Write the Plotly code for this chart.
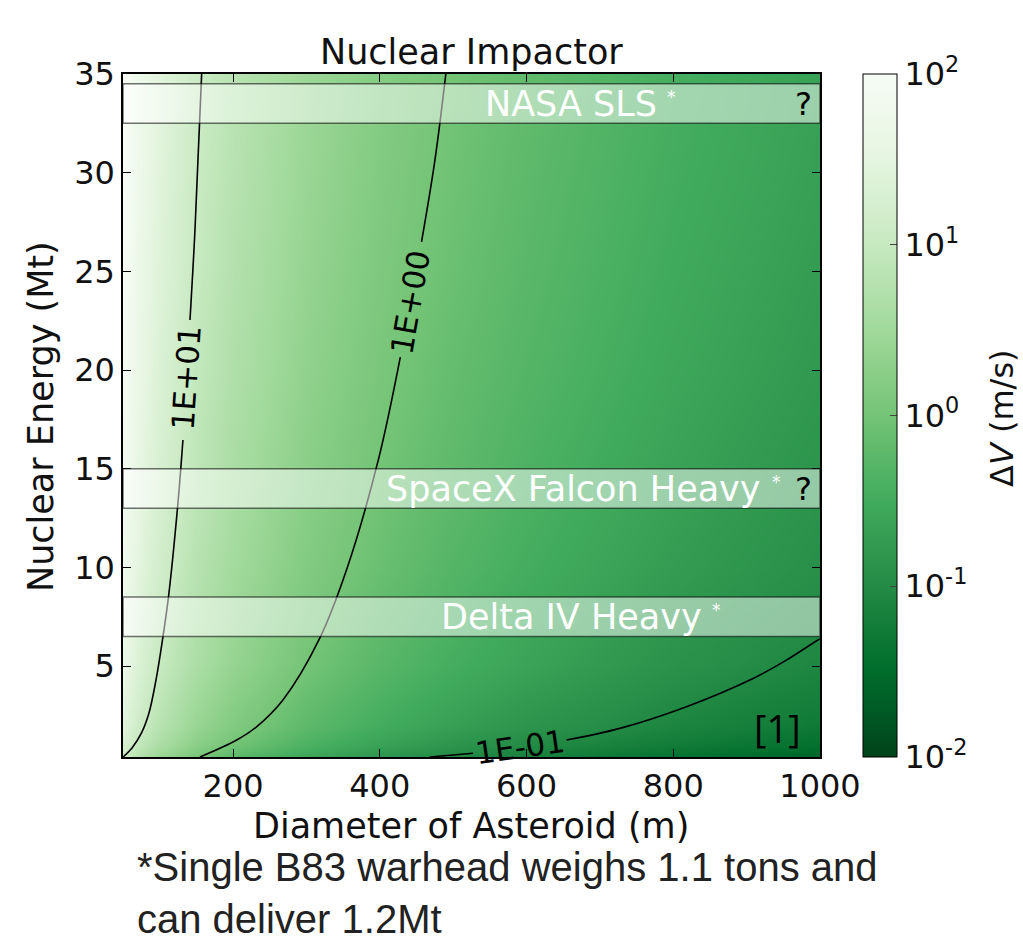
import plotly.graph_objects as go

# ---------------- data ----------------
diameter_grid = [50, 75, 100, 150, 200, 300, 400, 500, 600, 800, 1000]   # m
energy_grid = [0.4, 1, 2, 5, 10, 15, 20, 25, 30, 35]                    # Mt
# log10(delta V [m/s]) estimated on the grid (rows = energy, cols = diameter)
log_dv = [
    [1.08, 0.70, 0.42, 0.04, -0.23, -0.58, -0.84, -1.03, -1.18, -1.42, -1.60],
    [1.27, 0.89, 0.62, 0.25, -0.01, -0.38, -0.64, -0.84, -1.00, -1.25, -1.44],
    [1.44, 1.06, 0.79, 0.41, 0.15, -0.22, -0.48, -0.68, -0.84, -1.09, -1.29],
    [1.64, 1.27, 1.00, 0.63, 0.37, 0.00, -0.27, -0.47, -0.63, -0.89, -1.08],
    [1.80, 1.43, 1.16, 0.79, 0.53, 0.16, -0.10, -0.31, -0.47, -0.73, -0.93],
    [1.90, 1.52, 1.26, 0.89, 0.62, 0.25, -0.01, -0.21, -0.38, -0.64, -0.85],
    [1.96, 1.59, 1.32, 0.95, 0.69, 0.32, 0.06, -0.15, -0.31, -0.57, -0.78],
    [2.01, 1.64, 1.38, 1.01, 0.74, 0.37, 0.11, -0.09, -0.26, -0.52, -0.73],
    [2.05, 1.68, 1.42, 1.05, 0.79, 0.42, 0.15, -0.05, -0.22, -0.48, -0.68],
    [2.09, 1.72, 1.45, 1.08, 0.82, 0.45, 0.19, -0.01, -0.18, -0.44, -0.65],
]

# contour lines (split where the inline labels sit)
c10_lower_x = [50, 62.3, 75.2, 85.4, 95.0, 103.8, 112.0, 124.3, 131.7]
c10_lower_y = [0.40, 0.86, 1.62, 2.63, 4.31, 6.33, 8.51, 13.02, 16.46]
c10_upper_x = [141.3, 148.1, 157.2]
c10_upper_y = [22.54, 27.1, 35.0]

c1_lower_x = [154.9, 205.0, 232.0, 268.0, 317.0, 356.0, 398.0, 428.0]
c1_lower_y = [0.40, 1.26, 1.93, 3.29, 6.33, 10.03, 15.45, 20.66]
c1_upper_x = [456.9, 475.0, 490.0]
c1_upper_y = [26.5, 30.6, 35.0]

c01_lower_x = [468.3, 527.2]
c01_lower_y = [0.40, 0.59]
c01_upper_x = [654.5, 727.1, 818.0, 908.7, 954.2, 997.3, 1000]
c01_upper_y = [1.26, 1.85, 2.95, 4.38, 5.31, 6.33, 6.38]

contour_labels = ["1E+01", "1E+00", "1E-01"]
contour_label_x = [136, 441, 591]
contour_label_y = [19.6, 23.47, 0.92]
contour_label_angle = [-86, -80, -8]

# launch-vehicle bands
band_names = ["NASA SLS", "SpaceX Falcon Heavy", "Delta IV Heavy"]
band_low = [32.5, 13.0, 6.5]
band_high = [34.5, 15.0, 8.5]
band_text_x = [661, 663.5, 661]
band_star_x = [797.5, 940.6, 858.8]
band_question = [True, True, False]

x_ticks = [200, 400, 600, 800, 1000]
y_ticks = [5, 10, 15, 20, 25, 30, 35]
cbar_tickvals = [-2, -1, 0, 1, 2]
cbar_ticktext = ["10<sup>-2</sup>", "10<sup>-1</sup>", "10<sup>0</sup>",
                 "10<sup>1</sup>", "10<sup>2</sup>"]

# ---------------- figure ----------------
greens_r = [[0.0, "#00441b"], [0.125, "#006d2c"], [0.25, "#238b45"],
            [0.375, "#41ab5d"], [0.5, "#74c476"], [0.625, "#a1d99b"],
            [0.75, "#c7e9c0"], [0.875, "#e5f5e0"], [1.0, "#f7fcf5"]]

FONT = "DejaVu Sans"
W, H = 1023, 941
L, R, T, B = 123, 203, 74, 184
plot_w = W - L - R
plot_h = H - T - B


def px_to_paper(px, py):
    return (px - L) / plot_w, 1 - (py - T) / plot_h


fig = go.Figure()
fig.add_trace(go.Heatmap(
    x=diameter_grid, y=energy_grid, z=log_dv,
    zmin=-2, zmax=2, zsmooth="best", colorscale=greens_r,
    hoverinfo="skip",
    colorbar=dict(
        x=(863 - L) / plot_w, xanchor="left", xpad=0, ypad=0,
        y=0.5, yanchor="middle", len=1.0, lenmode="fraction",
        thickness=34, thicknessmode="pixels",
        outlinecolor="black", outlinewidth=1,
        tickvals=cbar_tickvals, ticktext=cbar_ticktext,
        ticks="inside", ticklen=7, tickcolor="#444", tickwidth=1,
        tickfont=dict(family=FONT, size=32, color="#111"),
    ),
))

line_style = dict(color="black", width=1.6, shape="spline", smoothing=1.0)
for xs, ys in [(c10_lower_x, c10_lower_y), (c10_upper_x, c10_upper_y),
               (c1_lower_x, c1_lower_y), (c1_upper_x, c1_upper_y),
               (c01_lower_x, c01_lower_y), (c01_upper_x, c01_upper_y)]:
    fig.add_trace(go.Scatter(x=xs, y=ys, mode="lines", line=line_style,
                             showlegend=False, hoverinfo="skip"))

annotations = []
for txt, ax, ay, ang in zip(contour_labels, contour_label_x, contour_label_y, contour_label_angle):
    annotations.append(dict(x=ax, y=ay, xref="x", yref="y", text=txt, showarrow=False,
                            textangle=ang, font=dict(family=FONT, size=31, color="black")))

shapes = []
for name, lo, hi, tx, sx, q in zip(band_names, band_low, band_high, band_text_x, band_star_x, band_question):
    shapes.append(dict(type="rect", xref="x", yref="y", x0=50, x1=1000, y0=lo, y1=hi,
                       fillcolor="rgba(255,255,255,0.5)",
                       line=dict(color="rgba(0,0,0,0.55)", width=1.5), layer="above"))
    mid = (lo + hi) / 2
    annotations.append(dict(x=tx, y=mid, xref="x", yref="y", text=name, showarrow=False,
                            font=dict(family=FONT, size=35, color="white")))
    annotations.append(dict(x=sx, y=mid + 0.35, xref="x", yref="y", text="*", showarrow=False,
                            font=dict(family=FONT, size=17, color="white")))
    if q:
        annotations.append(dict(x=978, y=mid, xref="x", yref="y", text="?", showarrow=False,
                                font=dict(family=FONT, size=32, color="black")))

annotations.append(dict(x=942, y=1.87, xref="x", yref="y", text="[1]", showarrow=False,
                        font=dict(family="Open Sans", size=38, color="black")))

# texts placed by pixel position
pixel_texts = [
    ("Nuclear Impactor", 471, 52, 0, 35, FONT, "center"),
    ("Diameter of Asteroid (m)", 471, 826, 0, 35, FONT, "center"),
    ("Nuclear Energy (Mt)", 41, 417, -90, 35, FONT, "center"),
    ("Δ<i>V</i> (m/s)", 1002, 418, -90, 32, FONT, "center"),
]
for txt, px, py, ang, size, fam, anchor in pixel_texts:
    xp, yp = px_to_paper(px, py)
    annotations.append(dict(x=xp, y=yp, xref="paper", yref="paper", text=txt, showarrow=False,
                            textangle=ang, xanchor=anchor, yanchor="middle",
                            font=dict(family=fam, size=size, color="#111")))

xp, yp = px_to_paper(135, 893)
annotations.append(dict(x=xp, y=yp, xref="paper", yref="paper",
                        text="*Single B83 warhead weighs 1.1 tons and<br>can deliver 1.2Mt",
                        showarrow=False, xanchor="left", yanchor="middle", align="left",
                        font=dict(family="Liberation Sans", size=40, color="#222")))

axis_common = dict(showline=True, linecolor="black", linewidth=1.5, mirror="ticks",
                   ticks="inside", ticklen=8, tickwidth=1.2, tickcolor="black",
                   showgrid=False, zeroline=False,
                   tickfont=dict(family=FONT, size=32, color="#111"))
fig.update_layout(
    width=W, height=H, margin=dict(l=L, r=R, t=T, b=B, autoexpand=False),
    paper_bgcolor="white", plot_bgcolor="white",
    xaxis=dict(range=[50, 1000], tickvals=x_ticks, **axis_common),
    yaxis=dict(range=[0.4, 35], tickvals=y_ticks, **axis_common),
    shapes=shapes, annotations=annotations, showlegend=False,
)
fig.write_html("out.html")
